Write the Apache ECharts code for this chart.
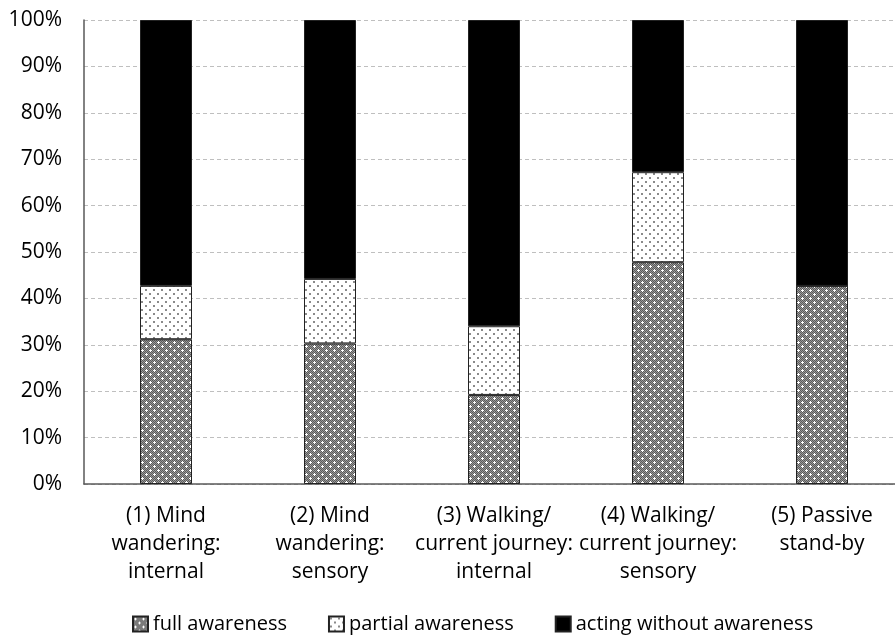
<!DOCTYPE html>
<html>
<head>
<meta charset="utf-8">
<script src="https://cdn.jsdelivr.net/npm/echarts@6/dist/echarts.min.js"></script>
<style>html,body{margin:0;padding:0;background:#fff;overflow:hidden;}#c{width:904px;height:635px;}</style>
</head>
<body>
<div id="c"></div>
<script>
const categories = ["(1) Mind\nwandering:\ninternal", "(2) Mind\nwandering:\nsensory", "(3) Walking/\ncurrent journey:\ninternal", "(4) Walking/\ncurrent journey:\nsensory", "(5) Passive\nstand-by"];
const fullAwareness = [31.2, 30.3, 19.2, 47.8, 42.7];
const partialAwareness = [11.5, 13.9, 14.8, 19.4, 0];
const actingWithout = [57.3, 55.8, 66.0, 32.8, 57.3];
const seriesNames = ["full awareness", "partial awareness", "acting without awareness"];

function makeFull() {
  const c = document.createElement('canvas');
  c.width = 8; c.height = 8;
  const g = c.getContext('2d');
  for (let y = 0; y < 8; y++) for (let x = 0; x < 8; x++) {
    g.fillStyle = ((x + y) % 2 === 0) ? '#5a5a5a' : '#9a9a9a';
    g.fillRect(x, y, 1, 1);
  }
  g.fillStyle = '#ffffff';
  [[2,2],[6,6]].forEach(([px,py]) => {
    g.fillRect(px, py-1, 1, 3);
    g.fillRect(px-1, py, 3, 1);
  });
  return c;
}
function makePartial() {
  const c = document.createElement('canvas');
  c.width = 8; c.height = 8;
  const g = c.getContext('2d');
  g.fillStyle = '#ffffff'; g.fillRect(0,0,8,8);
  g.fillStyle = '#8a8a8a';
  [[1,1],[5,5]].forEach(([px,py]) => { g.fillRect(px, py, 2, 2); });
  return c;
}
const fullPat = { image: makeFull(), repeat: 'repeat' };
const partPat = { image: makePartial(), repeat: 'repeat' };

const font = '"Open Sans", sans-serif';
const chart = echarts.init(document.getElementById('c'));
chart.setOption({
  animation: false,
  textStyle: { fontFamily: font },
  grid: { left: 84, top: 20, right: 0, bottom: 151, containLabel: false },
  legend: {
    top: 609, left: 127, itemWidth: 15, itemHeight: 15, itemGap: 41,
    icon: 'rect',
    textStyle: { fontSize: 20, color: '#000', fontFamily: font },
    data: seriesNames
  },
  xAxis: {
    type: 'category', data: categories,
    axisLine: { lineStyle: { color: '#595959', width: 1.5 } },
    axisTick: { show: false },
    axisLabel: { fontSize: 21, color: '#000', lineHeight: 28, margin: 18, interval: 0 }
  },
  yAxis: {
    type: 'value', min: 0, max: 100, interval: 10,
    axisLine: { show: true, lineStyle: { color: '#595959', width: 1.5 } },
    axisTick: { show: false },
    axisLabel: { formatter: '{value}%', fontSize: 21, color: '#000', margin: 22 },
    splitLine: { lineStyle: { type: [4, 3], color: '#bfbfbf', width: 1 } }
  },
  series: [
    { name: seriesNames[0], type: 'bar', stack: 'a', data: fullAwareness, barWidth: 52,
      itemStyle: { color: fullPat, borderColor: '#222', borderWidth: 1 } },
    { name: seriesNames[1], type: 'bar', stack: 'a', data: partialAwareness, barWidth: 52,
      itemStyle: { color: partPat, borderColor: '#222', borderWidth: 1 } },
    { name: seriesNames[2], type: 'bar', stack: 'a', data: actingWithout, barWidth: 52,
      itemStyle: { color: '#000', borderColor: '#222', borderWidth: 1 } }
  ]
});
</script>
</body>
</html>
